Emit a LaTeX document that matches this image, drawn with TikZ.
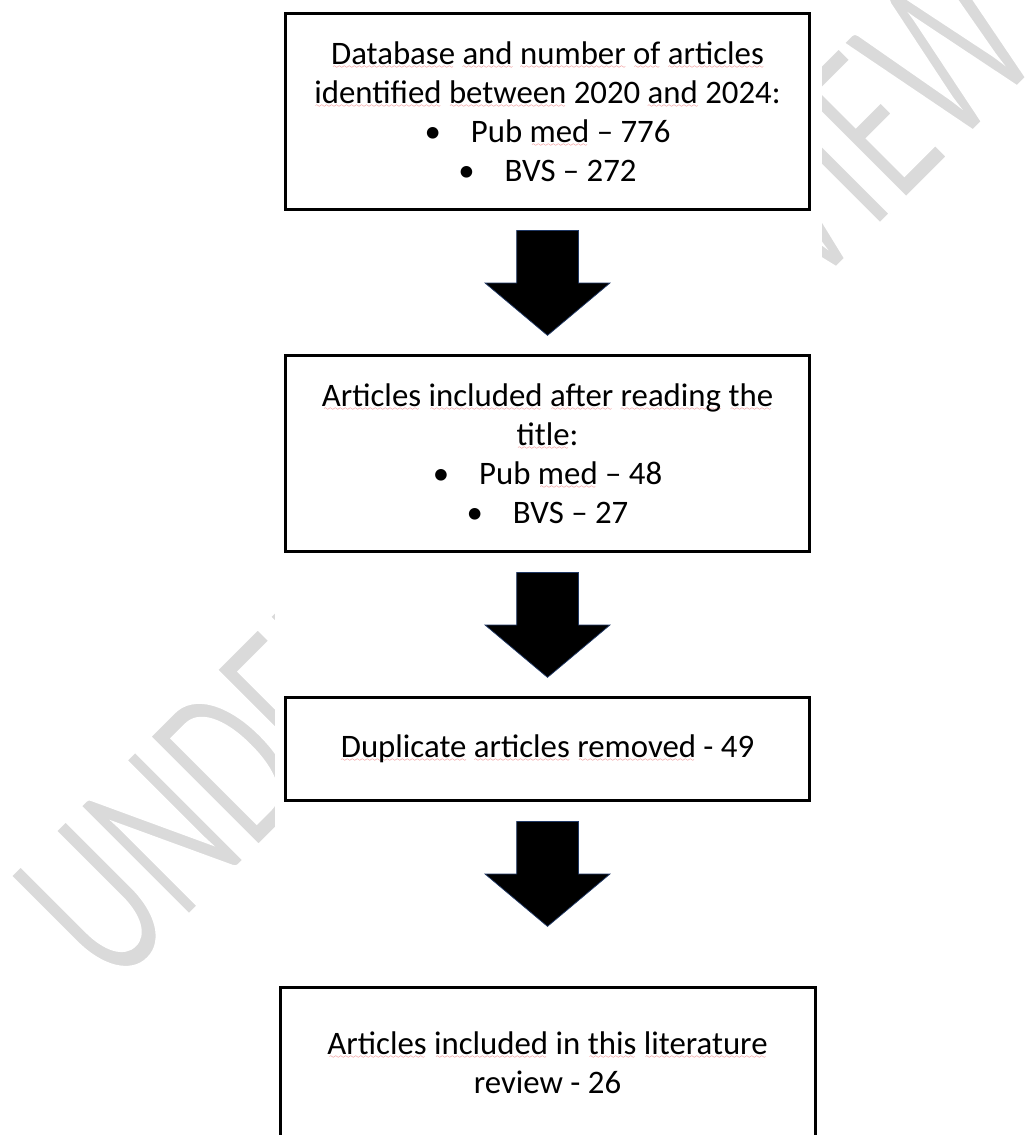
\documentclass[tikz,border=0pt]{standalone}
\usepackage{fontspec}
\setmainfont{Carlito}
\usetikzlibrary{shapes.arrows,positioning}
\definecolor{wmgray}{RGB}{218,218,218}
\definecolor{spellred}{RGB}{232,64,64}
\definecolor{arrowedge}{RGB}{32,56,100}
\font\spellwave=lasy6
\newsavebox\spellbox
\newcommand\spell[1]{\sbox\spellbox{#1}\rlap{\raisebox{-4pt}[0pt][0pt]{\color{spellred}\hbox to\wd\spellbox{\cleaders\hbox{\spellwave\char58}\hfil}}}\usebox\spellbox}
\begin{document}
\begin{tikzpicture}[x=1pt,y=-1pt,
	box/.style={draw,line width=3pt,fill=white,align=center,inner sep=0pt,
		minimum width=524pt,font=\fontsize{32.8}{39}\selectfont},
	blockarrow/.style={single arrow,shape border rotate=270,fill=black,draw=arrowedge,
		line width=0.75pt,minimum height=105pt,minimum width=124pt,inner sep=30.5pt,
		single arrow head extend=31.5pt,single arrow tip angle=100,anchor=tail}]
	\clip (0,0) rectangle (1034,1135);
	\fill[white] (0,0) rectangle (1034,1135);
	% watermark behind the chart
	\node[wmgray,rotate=45,anchor=base west,inner sep=0pt,font=\fontsize{240}{240}\selectfont] (wm) at (112,992)
		{\scalebox{0.6375}[1]{\special{pdf:literal direct 2 Tr 3 w 1 1 1 RG}UNDER PEER REVIEW\special{pdf:literal direct 0 Tr}}};
	\fill[white] (275,0) rectangle (822,1135);
	\node[box,minimum height=196pt] (ident) at (547.5,111.5) {\spell{Database} \spell{and} \spell{number} \spell{of} \spell{articles}\\
		\spell{identified} \spell{between} 2020 \spell{and} 2024:\\
		•\hspace{30pt}Pub \spell{med} – 776\\
		•\hspace{30pt}BVS – 272};
	\node[box,minimum height=196pt,below=143pt of ident] (title) {\spell{Articles} \spell{included} \spell{after} \spell{reading} \spell{the}\\
		\spell{title}:\\
		•\hspace{30pt}Pub \spell{med} – 48\\
		•\hspace{30pt}BVS – 27};
	\node[box,minimum height=103pt,below=143pt of title] (dupl) {\spell{Duplicate} \spell{articles} \spell{removed} - 49};
	\node[box,minimum width=535pt,minimum height=150pt,below=184pt of dupl] (final) {\spell{Articles} \spell{included} in \spell{this} \spell{literature}\\
		review - 26};
	\node[blockarrow] (a1) at ([yshift=-19pt]ident.south) {};
	\node[blockarrow] (a2) at ([yshift=-19pt]title.south) {};
	\node[blockarrow] (a3) at ([yshift=-19pt]dupl.south) {};
\end{tikzpicture}
\end{document}
